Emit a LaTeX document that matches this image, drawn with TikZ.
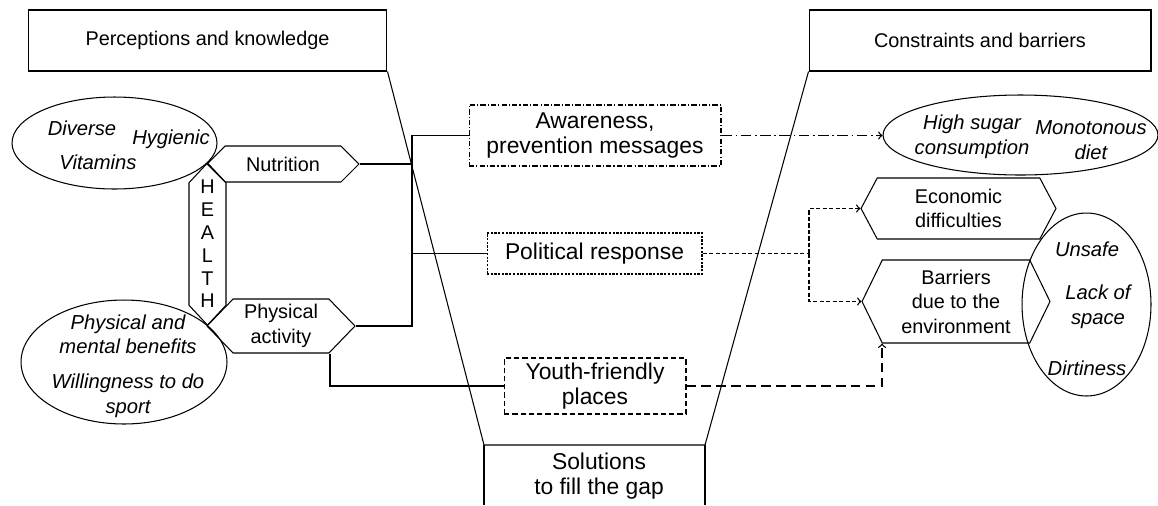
\documentclass[tikz,border=0pt]{standalone}
\usepackage{fontspec}
\setmainfont{Liberation Sans}
\usetikzlibrary{positioning, shapes.geometric, shapes.symbols}

\begin{document}
\begin{tikzpicture}[x=0.02cm, y=-0.02cm, font=\fontsize{11.3}{14}\selectfont, line width=0.6pt]
	\tikzstyle{headbox}=[rectangle, draw, minimum height=1.22cm, inner sep=0pt]
	\tikzstyle{hexa}=[signal, signal to=east and west, draw, inner sep=0pt, align=center]
	\tikzstyle{oval}=[ellipse, draw, inner sep=0pt]
	\tikzstyle{word}=[font=\fontsize{11.5}{14}\selectfont\itshape, align=center, inner sep=0pt]
	\tikzstyle{solbox}=[rectangle, draw, align=center, inner sep=0pt, font=\fontsize{13}{14.5}\selectfont]
	\tikzstyle{link}=[line width=0.75pt]
	\tikzstyle{awline}=[dash pattern=on 6pt off 2pt on 1pt off 2pt]
	\tikzstyle{polline}=[dash pattern=on 2.5pt off 1.2pt]
	\tikzstyle{yline}=[dash pattern=on 5.5pt off 3pt]
	\useasboundingbox (0,0) rectangle (1158,505);
	% the gap between the two sides
	\node[headbox, minimum width=7.18cm](pk) at (207.5,40.5) {Perceptions and knowledge};
	\node[headbox, minimum width=6.84cm](cb) at (980,40.5) {Constraints and barriers};
	\coordinate (sl) at (484,445);
	\coordinate (sr) at (705,445);
	\node[align=center, inner sep=0pt, font=\fontsize{13}{14.5}\selectfont](sol) at (599,476) {Solutions\\to fill the gap};
	\draw (pk.south east) -- (sl) -- (sr) -- (cb.south west);
	\draw (sl) -- (sl |- 0,505);
	\draw (sr) -- (sr |- 0,505);
	% perceptions
	\node[oval, minimum width=4.1cm, minimum height=1.84cm](diet) at (114.5,143) {};
	\node[word](dv) at (82,128) {Diverse};
	\node[word](hy) at (171,139) {Hygienic};
	\node[word](vi) at (98,162) {Vitamins};
	\node[oval, minimum width=4.12cm, minimum height=2.48cm](ben) at (124,362) {};
	\node[word](bt) at (128,366) {Physical and\\mental benefits\\[0.2cm]Willingness to do\\sport};
	\node[hexa, minimum width=3.04cm, minimum height=0.72cm, signal pointer angle=90](nut) at (283,164) {Nutrition};
	\node[hexa, minimum width=2.96cm, minimum height=1.08cm, signal pointer angle=92](phys) at (281,326) {Physical\\activity};
	\node[hexa, signal to=north and south, minimum width=0.74cm, minimum height=2.45cm, signal pointer angle=86](hl) at (207.5,244) {};
	\node[align=center, inner sep=0pt, font=\fontsize{11.3}{13}\selectfont](hlt) at (hl.center) {H\\E\\A\\L\\T\\H};
	% solutions
	\node[solbox, dash pattern=on 3pt off 1.2pt on 0.6pt off 1.2pt, minimum width=5.04cm, minimum height=1.22cm](aw) at (595,135.5) {Awareness,\\prevention messages};
	\node[solbox, dash pattern=on 1.3pt off 0.8pt, minimum width=4.3cm, minimum height=0.82cm](pol) at (594.5,253.5) {Political response};
	\node[solbox, dash pattern=on 3pt off 1.7pt, minimum width=3.64cm, minimum height=1.12cm](yf) at (595,386) {Youth-friendly\\places};
	% constraints
	\node[oval, minimum width=5.5cm, minimum height=1.6cm](sug) at (1020.5,135) {};
	\node[word](hs) at (972,137) {High sugar\\consumption};
	\node[word](mo) at (1091,140) {Monotonous\\diet};
	\node[hexa, minimum width=3.9cm, minimum height=1.22cm, signal pointer angle=124](eco) at (958.5,208.5) {Economic\\difficulties};
	\node[hexa, minimum width=3.76cm, minimum height=1.66cm, signal pointer angle=128](bar) at (956,301.5) {Barriers\\due to the\\environment};
	\node[oval, minimum width=2.58cm, minimum height=3.66cm](env) at (1086.5,304.5) {};
	\node[word](un) at (1087,249) {Unsafe};
	\node[word](ls) at (1098,307) {Lack of\\space};
	\node[word](di) at (1087,368) {Dirtiness};
	% connectors
	\coordinate (jt) at (412,135.5);
	\coordinate (jb) at (412,326);
	\draw[link](aw.west) -- (jt) -- (jb) -- (phys.east);
	\draw[link](nut.east) -- (nut.east -| jt);
	\draw[link](pol.west) -- (pol.west -| jt);
	\draw[link]([xshift=0.98cm]phys.south) |- (yf.west);
	\draw[link, awline, ->](aw.east) -- (aw.east -| sug.west);
	\coordinate (jp) at (809,253.5);
	\draw[link, polline](pol.east) -- (jp);
	\draw[link, polline, ->](jp) |- (eco.west);
	\draw[link, polline, ->](jp) |- (bar.west);
	\draw[link, yline, ->](yf.east) -| ([xshift=-1.48cm]bar.south);
\end{tikzpicture}
\end{document}
